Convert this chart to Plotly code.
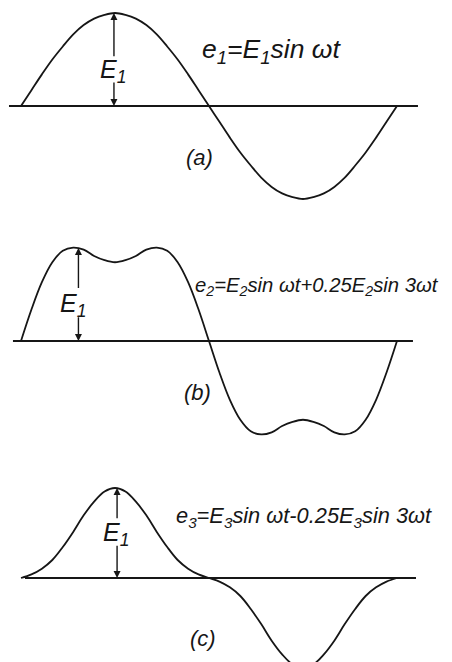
import plotly.graph_objects as go

# the page puts the plot 8px in from the corner, so the figure is that much smaller
PAGE_W, PAGE_H, OFF = 452, 662, 8
W, H = PAGE_W - OFF, PAGE_H - OFF

# omega*t in degrees, one sample every 10 degrees
wt = list(range(0, 361, 10))

# curves, in units of E
e1 = [0.00, 0.17, 0.34, 0.50, 0.64, 0.77, 0.87, 0.94, 0.98, 1.00,
      0.98, 0.94, 0.87, 0.77, 0.64, 0.50, 0.34, 0.17, 0.00,
      -0.17, -0.34, -0.50, -0.64, -0.77, -0.87, -0.94, -0.98, -1.00,
      -0.98, -0.94, -0.87, -0.77, -0.64, -0.50, -0.34, -0.17, 0.00]
e2 = [0.00, 0.30, 0.56, 0.75, 0.86, 0.89, 0.87, 0.81, 0.77, 0.75,
      0.77, 0.81, 0.87, 0.89, 0.86, 0.75, 0.56, 0.30, 0.00,
      -0.30, -0.56, -0.75, -0.86, -0.89, -0.87, -0.81, -0.77, -0.75,
      -0.77, -0.81, -0.87, -0.89, -0.86, -0.75, -0.56, -0.30, 0.00]
e3 = [0.00, 0.05, 0.13, 0.25, 0.43, 0.64, 0.87, 1.06, 1.20, 1.25,
      1.20, 1.06, 0.87, 0.64, 0.43, 0.25, 0.13, 0.05, 0.00,
      -0.05, -0.13, -0.25, -0.43, -0.64, -0.87, -1.06, -1.20, -1.25,
      -1.20, -1.06, -0.87, -0.64, -0.43, -0.25, -0.13, -0.05, 0.00]
curves = [e1, e2, e3]

# extent of each zero line (degrees)
zero_lines = [[-11.5, 380.1], [-7.7, 375.3], [3.8, 378.2]]

# E1 double arrow: x (deg), peak, gap below label, gap above label
arrow_x = [89, 55, 92]
arrow_top = [1.00, 0.886, 1.25]
label_gap = [[0.27, 0.52], [0.24, 0.49], [0.47, 0.81]]

formulas = [
    "e<sub>1</sub>=E<sub>1</sub>sin ωt",
    "e<sub>2</sub>=E<sub>2</sub>sin ωt+0.25E<sub>2</sub>sin 3ωt",
    "e<sub>3</sub>=E<sub>3</sub>sin ωt-0.25E<sub>3</sub>sin 3ωt",
]
tags = ["(a)", "(b)", "(c)"]

# page-pixel layout of each panel: window top/bottom, baseline, px per E
panels = [
    dict(top=8, bottom=222, base=106, scale=93),
    dict(top=222, bottom=450, base=341, scale=105),
    dict(top=450, bottom=662, base=578, scale=72),
]
# page-pixel spots for the texts
formula_px = [(200, 51), (193, 286), (174, 517)]
formula_size = [26.5, 20.3, 21.8]
tag_px = [(199, 157), (197, 392), (203, 638)]
elabel_px = [(113, 71), (73, 305), (116, 534)]

PX0, PX_PER_DEG = 21, 1.0444   # page x of wt=0 and px per degree

INK = "#161616"
FONT = "Liberation Sans, Arial, sans-serif"
x_range = [(OFF - PX0) / PX_PER_DEG, (PAGE_W - PX0) / PX_PER_DEG]


def to_deg(px):
    return (px - PX0) / PX_PER_DEG


def to_e(py, p):
    return (p["base"] - py) / p["scale"]


fig = go.Figure()
annotations = []
layout = {}

for i, p in enumerate(panels):
    n = "" if i == 0 else str(i + 1)
    xa, ya = "x" + n, "y" + n
    layout["xaxis" + n] = dict(range=x_range, domain=[0, 1], visible=False,
                               anchor=ya, fixedrange=True)
    layout["yaxis" + n] = dict(
        domain=[1 - (p["bottom"] - OFF) / H, 1 - (p["top"] - OFF) / H],
        range=[to_e(p["bottom"], p), to_e(p["top"], p)],
        visible=False, anchor=xa, fixedrange=True)

    fig.add_trace(go.Scatter(x=zero_lines[i], y=[0, 0], mode="lines",
                             line=dict(color=INK, width=2), xaxis=xa, yaxis=ya,
                             hoverinfo="skip"))
    fig.add_trace(go.Scatter(x=wt, y=curves[i], mode="lines",
                             line=dict(color=INK, width=1.8, shape="spline", smoothing=1),
                             xaxis=xa, yaxis=ya, hoverinfo="skip"))

    ax = arrow_x[i]
    lo, hi = label_gap[i]
    for tip, tail in [(arrow_top[i], hi), (0, lo)]:
        annotations.append(dict(x=ax, y=tip, ax=ax, ay=tail, xref=xa, yref=ya,
                                axref=xa, ayref=ya, showarrow=True, arrowhead=2,
                                arrowsize=1, arrowwidth=1.4, arrowcolor=INK, text=""))

    fx, fy = formula_px[i]
    annotations.append(dict(x=to_deg(fx), y=to_e(fy, p), xref=xa, yref=ya,
                            text=formulas[i], showarrow=False,
                            xanchor="left", yanchor="middle",
                            font=dict(family=FONT, size=formula_size[i],
                                      color=INK, style="italic")))
    tx, ty = tag_px[i]
    annotations.append(dict(x=to_deg(tx), y=to_e(ty, p), xref=xa, yref=ya,
                            text=tags[i], showarrow=False,
                            font=dict(family=FONT, size=22, color=INK, style="italic")))
    lx, ly = elabel_px[i]
    annotations.append(dict(x=to_deg(lx), y=to_e(ly, p), xref=xa, yref=ya,
                            text="E<sub>1</sub>", showarrow=False,
                            font=dict(family=FONT, size=25, color=INK, style="italic")))

fig.update_layout(width=W, height=H, margin=dict(l=0, r=0, t=0, b=0),
                  paper_bgcolor="white", plot_bgcolor="white", showlegend=False,
                  annotations=annotations, **layout)

fig.write_html("out.html")
